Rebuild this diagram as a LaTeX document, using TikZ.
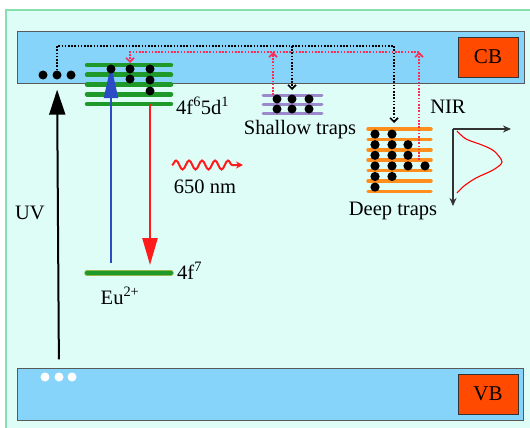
\documentclass[tikz,border=0pt]{standalone}
\usepackage{fontspec}
\setmainfont{Liberation Serif}
\usepackage{tikz}
\usepackage{xcolor}
\usetikzlibrary{arrows.meta, positioning, decorations.pathmorphing}
\definecolor{bgcyan}{HTML}{DEFDF7}
\definecolor{framegreen}{HTML}{86E0AE}
\definecolor{bandblue}{HTML}{87D4FA}
\definecolor{boxred}{HTML}{FF4A00}
\definecolor{lvlgreen}{HTML}{1F9A2A}
\definecolor{trappurple}{HTML}{9C88CC}
\definecolor{traporange}{HTML}{FF8E1C}
\definecolor{uvblue}{HTML}{2B4CC4}
\definecolor{emred}{HTML}{FF1B1B}
\definecolor{dotred}{HTML}{FF2A55}
\tikzstyle{band} = [rectangle, 
draw=black!65, 
line width=0.8pt, 
fill=bandblue, 
minimum width=507pt, 
minimum height=52pt]
\tikzstyle{bandname} = [rectangle, 
draw=black!80, 
line width=0.8pt, 
fill=boxred, 
minimum width=60pt, 
minimum height=40pt, 
font=\fontsize{21}{24}\selectfont]
\tikzstyle{electron} = [circle, fill=black, inner sep=0pt, minimum size=9pt]
\tikzstyle{hole} = [circle, fill=white, inner sep=0pt, minimum size=9pt]
\tikzstyle{txt} = [inner sep=0pt, font=\fontsize{20.5}{24}\selectfont]
\tikzstyle{level} = [line width=4.5pt, lvlgreen, line cap=round]
\tikzstyle{shallowlvl} = [line width=3pt, trappurple, line cap=round]
\tikzstyle{deeplvl} = [line width=3.5pt, traporange, line cap=round]
\tikzstyle{hop} = [black, line width=1.8pt, dash pattern=on 1.6pt off 1.6pt,
-{Straight Barb[length=4pt, width=8pt, line width=1.6pt]}]
\tikzstyle{release} = [dotred, line width=1.8pt, dash pattern=on 1.6pt off 1.6pt,
-{Straight Barb[length=4pt, width=8pt, line width=1.6pt]}]

\begin{document}
\begin{tikzpicture}[x=1pt, y=-1pt]

        % --- Fondo ---
        \fill[white] (0,0) rectangle (530,428);
        \useasboundingbox (0,0) rectangle (530,428);
        \fill[bgcyan] (6,10) rectangle (530,428);
        \draw[framegreen, line width=1.5pt] (530,10) -- (6,10) -- (6,428);

        % --- Bandas ---
        \node (cb) [band] at (270.5,57) {};
        \node (vb) [band, minimum width=506pt] at (270,394) {};
        \node (cbname) [bandname] at (488,57) {CB};
        \node (vbname) [bandname] at (488,394) {VB};

        % electrones y huecos
        \node (e1) [electron] at (43,75) {};
        \node (e2) [electron] at (57,75) {};
        \node (e3) [electron] at (71,75) {};
        \node (h1) [hole] at (45,377) {};
        \node (h2) [hole] at (59,377) {};
        \node (h3) [hole] at (72,377) {};

        % --- Niveles del Eu ---
        \foreach \i in {0,...,4}
            \draw[level] (87,65+9.75*\i) -- (171,65+9.75*\i);
        \draw[yellow!45!lvlgreen, line width=5.5pt, line cap=round] (87,273) -- (171,273);
        \draw[level, line width=4pt] (87,273) -- (171,273);
        \coordinate (absb) at (111,263);
        \coordinate (abst) at (111,65);
        \coordinate (emt) at (150,104);
        \coordinate (emb) at (150,265);

        % absorcion y emision
        \draw[black, line width=2pt, -{Triangle[length=25pt, width=16pt]},
            shorten <=13pt, shorten >=10pt] (h2) -- (e2);
        \draw[uvblue, line width=2pt, -{Triangle[length=33pt, width=14pt]}] (absb) -- (abst);
        \draw[emred, line width=2.5pt, -{Triangle[length=27pt, width=15pt]}] (emt) -- (emb);
        \foreach \x/\y in {111/69, 130/69, 130/79, 150/69, 150/80, 150/91}
            \fill (\x,\y) circle (4.5);

        \coordinate (wavea) at (172,165);
        \coordinate (waveb) at (243,165);
        \draw[emred, line width=2pt, decorate,
            decoration={snake, amplitude=4.5pt, segment length=13pt, post length=6pt},
            -{Stealth[length=7pt, width=7pt]}] (wavea) -- (waveb);

        % --- Trampas ---
        \foreach \i in {0,1,2}
            \draw[shallowlvl] (263,95+9*\i) -- (322,95+9*\i);
        \foreach \x in {277,292,309}
            \foreach \y in {99,109}
                \fill (\x,\y) circle (4.5);
        \foreach \i in {0,...,6}
            \draw[deeplvl] (368,129+10.4*\i) -- (431,129+10.4*\i);
        \foreach \x/\r in {375/{1,2,3,4,5,6}, 392/{1,2,3,4,5}, 408/{2,3,4}, 425/{4}}
            \foreach \k in \r
                \fill (\x,123.5+10.6*\k) circle (4.6);
        \coordinate (shtop) at (292,90);
        \coordinate (dptop) at (394,123);
        \coordinate (split) at (292,46);
        \coordinate (bend) at (394,46);

        % --- Captura (negro) y liberacion (rojo) ---
        \draw[hop] (e2.north) |- (bend) -- (dptop);
        \draw[hop] (split) -- (shtop);
        \coordinate (shout) at (273,95);
        \coordinate (dpout) at (419,160);
        \coordinate (relc) at (419,52);
        \coordinate (eutop) at (130,63);
        \draw[release] (dpout) -- (relc);
        \draw[release] (relc) -| (eutop);
        \draw[release] (shout) -- (273,52);

        % --- Espectro NIR ---
        \coordinate (orig) at (453,129);
        \draw[black!80, line width=1.3pt, -{Stealth[length=8pt, width=7pt]}] (orig) -- ++(58,0);
        \draw[black!80, line width=1.3pt, -{Stealth[length=8pt, width=7pt]}] (orig) -- ++(0,77);
        \draw[red, line width=1.1pt] plot[smooth] coordinates
            {(457,131) (466,139) (482,145) (494,151) (502,162) (493,170) (476,178) (464,186) (457,193)};

        % --- Etiquetas ---
        \node (lvlup) [txt, anchor=west] at (176,106) {4f\textsuperscript{6}5d\textsuperscript{1}};
        \node (lvlgnd) [txt, anchor=west] at (177,271) {4f\textsuperscript{7}};
        \node (eu) [txt] at (120,296) {Eu\textsuperscript{2+}};
        \node (wl) [txt] at (205,187) {650 nm};
        \node (uv) [txt] at (30,213) {UV};
        \node (shallow) [txt] at (300,130) {Shallow traps};
        \node (deep) [txt] at (393,211) {Deep traps};
        \node (nir) [txt] at (448,107) {NIR};

\end{tikzpicture}
\end{document}
